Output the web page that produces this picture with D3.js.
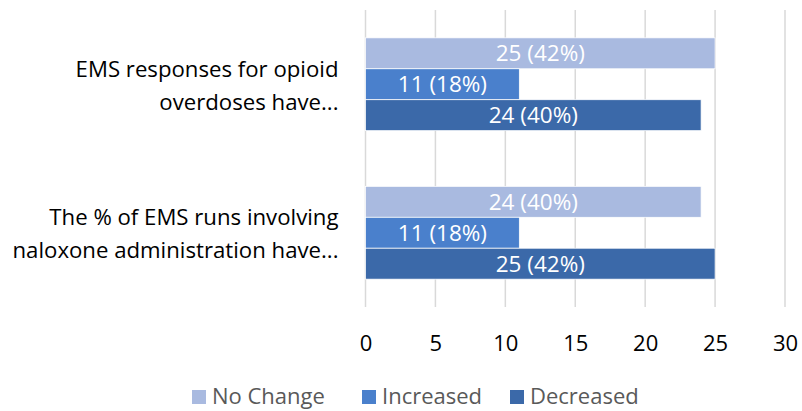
<!DOCTYPE html>
<html>
<head>
<meta charset="utf-8">
<script src="https://cdn.jsdelivr.net/npm/d3@7"></script>
<style>
  body { margin: 0; background: #fff; }
  svg text { font-family: "Open Sans", "Noto Sans", sans-serif; }
</style>
</head>
<body>
<div id="chart"></div>
<script>
// Data
const categories = [
    ["EMS responses for opioid", "overdoses have..."],
    ["The % of EMS runs involving", "naloxone administration have..."]
];
const seriesNames = ["No Change", "Increased", "Decreased"];
const counts = [
    [25, 11, 24],
    [24, 11, 25]
];
const percents = [
    [42, 18, 40],
    [40, 18, 42]
];
const xTicks = [0, 5, 10, 15, 20, 25, 30];
const colors = ["#A9BAE0", "#4A80CC", "#3B69A9"];

const width = 802, height = 411;
const margin = {top: 10, right: 17, bottom: 104, left: 365.5};
const innerW = width - margin.left - margin.right;
const innerH = height - margin.top - margin.bottom;

const svg = d3.select("#chart").append("svg")
    .attr("width", width)
    .attr("height", height);

const g = svg.append("g")
    .attr("transform", `translate(${margin.left},${margin.top})`);

const x = d3.scaleLinear().domain([0, 30]).range([0, innerW]);

const y0 = d3.scaleBand()
    .domain(d3.range(categories.length))
    .range([0, innerH])
    .paddingInner(0.375)
    .paddingOuter(0.1875);

const y1 = d3.scaleBand()
    .domain(d3.range(seriesNames.length))
    .range([0, y0.bandwidth()]);

// Gridlines
g.selectAll("line.grid")
    .data(xTicks)
    .enter().append("line")
    .attr("class", "grid")
    .attr("x1", d => x(d))
    .attr("x2", d => x(d))
    .attr("y1", 0)
    .attr("y2", innerH)
    .style("stroke", "#d9d9d9")
    .style("stroke-width", 1.5);

// Bars
const groups = g.selectAll("g.cat")
    .data(counts)
    .enter().append("g")
    .attr("class", "cat")
    .attr("transform", (d, i) => `translate(0,${y0(i)})`);

groups.selectAll("rect")
    .data(d => d)
    .enter().append("rect")
    .attr("x", 0)
    .attr("y", (d, j) => y1(j))
    .attr("width", d => x(d))
    .attr("height", y1.bandwidth())
    .style("fill", (d, j) => colors[j])
    .style("stroke", "#fff")
    .style("stroke-width", 0.75);

groups.selectAll("text")
    .data((d, i) => d.map((v, j) => ({v, p: percents[i][j], j})))
    .enter().append("text")
    .attr("x", d => x(d.v) / 2)
    .attr("y", d => y1(d.j) + y1.bandwidth() / 2)
    .attr("dy", "0.36em")
    .attr("text-anchor", "middle")
    .style("fill", "#fff")
    .style("font-size", "22.5px")
    .text(d => `${d.v} (${d.p}%)`);

// Category labels
const catLabels = g.selectAll("text.cat-label")
    .data(categories)
    .enter().append("text")
    .attr("class", "cat-label")
    .attr("text-anchor", "end")
    .attr("x", -27)
    .attr("y", (d, i) => y0(i) + y0.bandwidth() / 2)
    .style("fill", "#000")
    .style("font-size", "22.2px");

catLabels.selectAll("tspan")
    .data(d => d)
    .enter().append("tspan")
    .attr("x", -27)
    .attr("dy", (d, k) => k === 0 ? "-0.33em" : "1.48em")
    .text(d => d);

// X axis tick labels
const xAxis = g.append("g")
    .attr("transform", `translate(0,${innerH})`)
    .call(d3.axisBottom(x).tickValues(xTicks).tickSize(0).tickPadding(28));
xAxis.select(".domain").remove();
xAxis.selectAll("text")
    .style("font-family", "'Open Sans', 'Noto Sans', sans-serif")
    .style("font-size", "22px")
    .style("fill", "#000");

// Legend
const legendX = [192, 362, 510];
const legend = svg.selectAll("g.legend")
    .data(seriesNames)
    .enter().append("g")
    .attr("class", "legend")
    .attr("transform", (d, i) => `translate(${legendX[i]},396)`);

legend.append("rect")
    .attr("x", 0)
    .attr("y", -6)
    .attr("width", 14)
    .attr("height", 14)
    .style("fill", (d, i) => colors[i]);

legend.append("text")
    .attr("x", 20)
    .attr("y", 0)
    .attr("dy", "0.38em")
    .style("fill", "#595959")
    .style("font-size", "22px")
    .text(d => d);
</script>
</body>
</html>
